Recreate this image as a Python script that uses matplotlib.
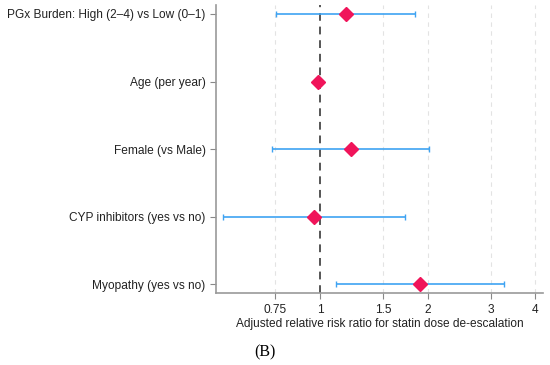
import numpy as np
from matplotlib import pyplot as plt

labels = ['PGx Burden: High (2\u20134) vs Low (0\u20131)', 'Age (per year)', 'Female (vs Male)',
          'CYP inhibitors (yes vs no)', 'Myopathy (yes vs no)']
rr = [1.18, 0.985, 1.22, 0.962, 1.91]
lo = [0.753, 0.98, 0.733, 0.535, 1.11]
hi = [1.84, 0.99, 2.02, 1.73, 3.28]
xticks = [0.75, 1, 1.5, 2, 3, 4]
xticklabels = ['0.75', '1', '1.5', '2', '3', '4']

plt.rcParams['font.family'] = ['Liberation Sans', 'DejaVu Sans']

fig = plt.figure(figsize=(5.5, 3.65), dpi=100)
ax = fig.add_axes([0.3927, 0.197, 0.5943, 0.789])

ypos = np.arange(1, len(labels) + 1)
rr_a = np.array(rr)
err = [rr_a - np.array(lo), np.array(hi) - rr_a]

# faint grid at the x ticks, dark reference line at 1
for t in xticks:
    if t != 1:
        ax.axvline(t, color='#e3e3e3', lw=0.8, ls=(0, (4, 4)), zorder=0)
ax.axvline(1, color='#555555', lw=1.4, ls=(0, (4, 3)), zorder=1)

ax.errorbar(rr, ypos, xerr=err, fmt='none', ecolor='#3ea3f2', elinewidth=1.2,
            capsize=2.5, capthick=1.0, zorder=2)
ax.plot(rr, ypos, 'D', color='#f0145a', markersize=7, zorder=3)

ax.set_xscale('log')
ax.set_xlim(0.512, 4.2)
ax.set_ylim(5.13, 0.87)
ax.set_xticks(xticks)
ax.set_xticklabels(xticklabels)
ax.xaxis.set_minor_locator(plt.NullLocator())
ax.set_yticks(ypos)
ax.set_yticklabels(labels)
ax.tick_params(axis='both', labelsize=8.6, length=4, width=0.8,
               colors='#888888', labelcolor='#222222')

for s in ['top', 'right']:
    ax.spines[s].set_visible(False)
for s in ['left', 'bottom']:
    ax.spines[s].set_color('#999999')
    ax.spines[s].set_linewidth(1.2)

ax.set_xlabel('Adjusted relative risk ratio for statin dose de-escalation', fontsize=8.6,
              color='#222222', labelpad=2)

fig.text(0.482, 0.035, '(B)', family='Liberation Serif', fontsize=11.5, ha='center', va='center')

fig.savefig('out.png', facecolor='white')
